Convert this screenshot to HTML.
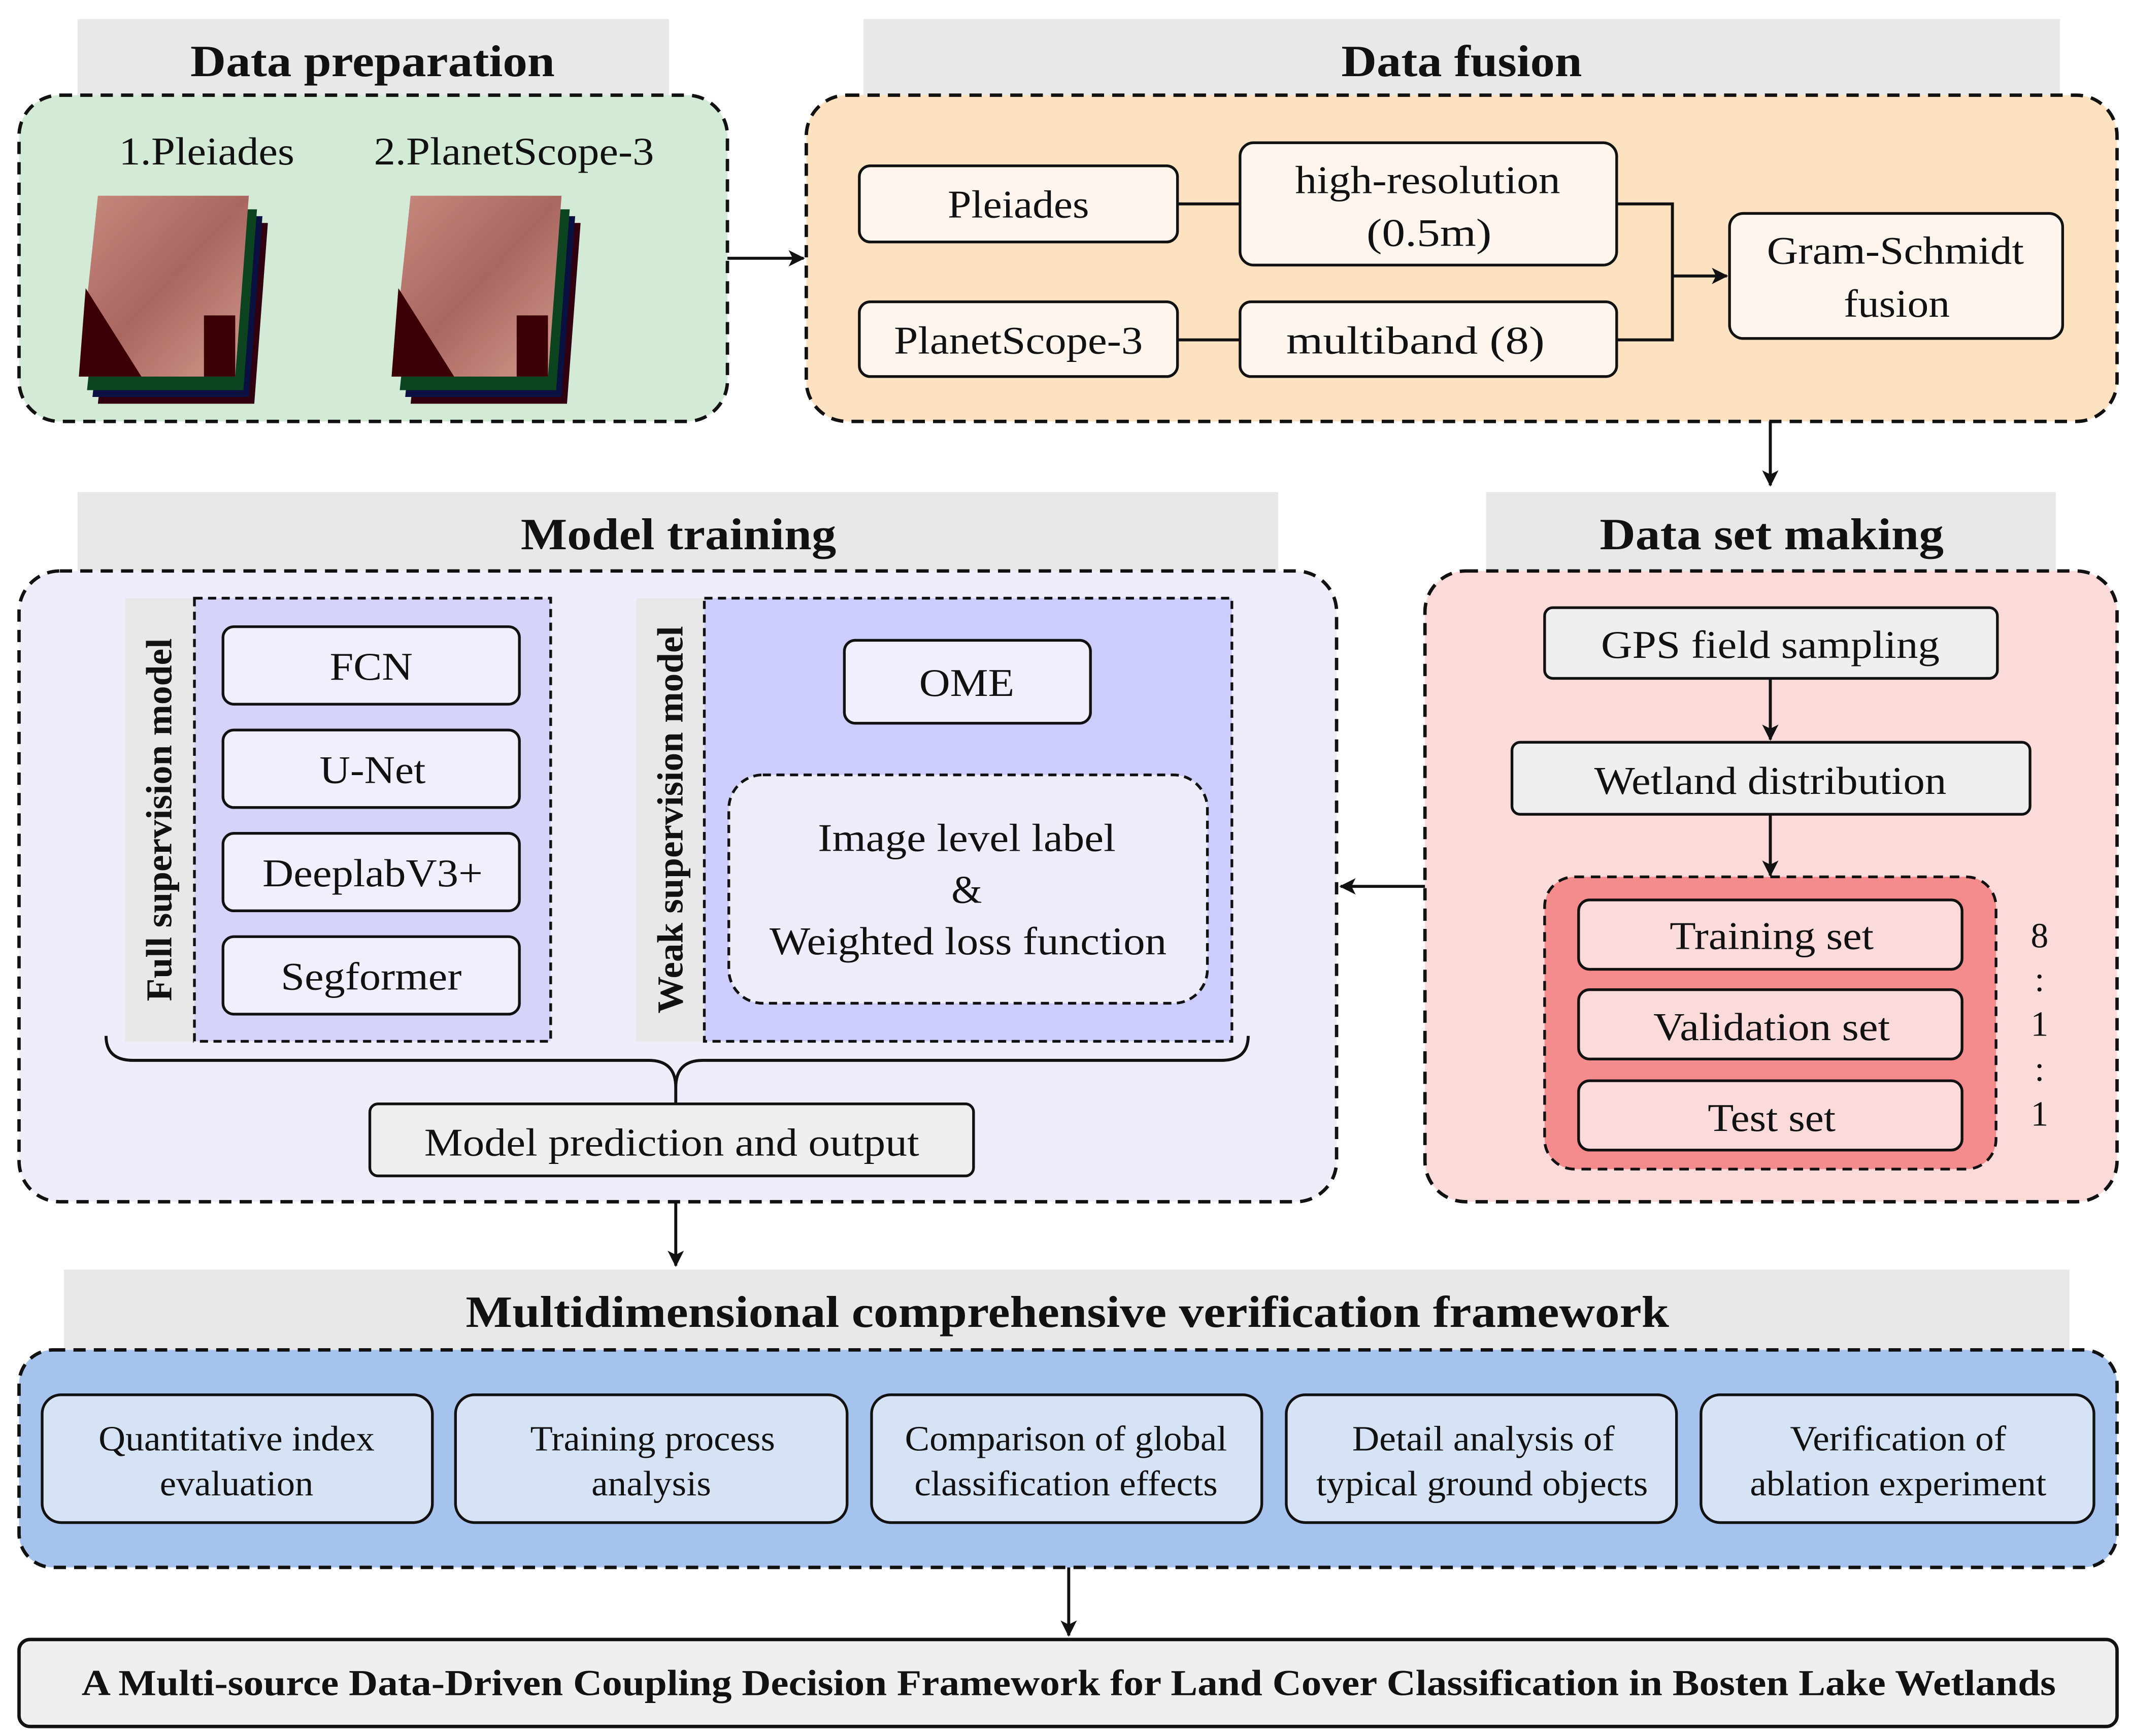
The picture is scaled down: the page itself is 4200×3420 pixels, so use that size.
<!DOCTYPE html>
<html><head><meta charset="utf-8"><style>html,body{margin:0;padding:0;background:#fff}svg{display:block}svg text{font-family:"Liberation Serif","Times New Roman",serif}</style></head>
<body>
<svg width="4200" height="3420" viewBox="0 0 1568 1277" preserveAspectRatio="none" xmlns="http://www.w3.org/2000/svg">
<defs>
<marker id="ah" markerWidth="12" markerHeight="12" refX="11" refY="6" orient="auto" markerUnits="userSpaceOnUse"><path d="M0,0 L12,6 L0,12 L3,6 z" fill="#111"/></marker>
<linearGradient id="img" x1="0" y1="0" x2="1" y2="1"><stop offset="0" stop-color="#c88a80"/><stop offset="0.5" stop-color="#a9675f"/><stop offset="1" stop-color="#d39a8e"/></linearGradient>
</defs>
<g stroke="#111" stroke-width="2.5">
<rect x="57" y="14" width="435" height="56" fill="#e8e8e8" stroke="none"/>
<rect x="635" y="14" width="880" height="56" fill="#e8e8e8" stroke="none"/>
<rect x="57" y="362" width="883" height="58" fill="#e8e8e8" stroke="none"/>
<rect x="1093" y="362" width="419" height="58" fill="#e8e8e8" stroke="none"/>
<rect x="47" y="934" width="1475" height="59" fill="#e8e8e8" stroke="none"/>
<rect x="14" y="70" width="521" height="240" rx="30" fill="#d3ead6" stroke-dasharray="9,6"/>
<rect x="593" y="70" width="964" height="240" rx="30" fill="#fde2c2" stroke-dasharray="9,6"/>
<rect x="14" y="420" width="969" height="464" rx="30" fill="#eeeefb" stroke-dasharray="9,6"/>
<rect x="1048" y="420" width="509" height="464" rx="30" fill="#fbdada" stroke-dasharray="9,6"/>
<rect x="14" y="993" width="1543" height="160" rx="25" fill="#a6c3ee" stroke-dasharray="9,6"/>
<rect x="14" y="1206" width="1543" height="64" rx="8" fill="#efefef"/>
</g>
<g>
<g id="im1">
<polygon points="86,164 197,164 187,297 72,297" fill="#300010"/>
<polygon points="82,159 193,159 183,292 68,292" fill="#0a1040"/>
<polygon points="78,154 189,154 179,287 64,287" fill="#0c4420"/>
<polygon points="72,144 183,144 173,277 58,277" fill="url(#img)"/>
<polygon points="63,212 104,277 58,277" fill="#3a0006"/>
<polygon points="150,232 173,232 173,277 150,277" fill="#3a0006"/>
</g>
<use href="#im1" x="230"/>
</g>
<g stroke="#111" stroke-width="2" fill="#fef6ee">
<rect x="632" y="122" width="234" height="56" rx="8"/>
<rect x="632" y="222" width="234" height="55" rx="8"/>
<rect x="912" y="105" width="277" height="90" rx="10"/>
<rect x="912" y="222" width="277" height="55" rx="8"/>
<rect x="1272" y="157" width="245" height="92" rx="10"/>
</g>
<g stroke="#111" stroke-width="2.2" fill="none">
<line x1="866" y1="150" x2="912" y2="150"/><line x1="866" y1="250" x2="912" y2="250"/>
<polyline points="1189,150 1230,150 1230,250 1189,250"/>
<line x1="1230" y1="203" x2="1270" y2="203" marker-end="url(#ah)"/>
<line x1="535" y1="190" x2="591" y2="190" marker-end="url(#ah)"/>
<line x1="1302" y1="310" x2="1302" y2="357" marker-end="url(#ah)"/>
<line x1="1302" y1="499" x2="1302" y2="544" marker-end="url(#ah)"/>
<line x1="1302" y1="599" x2="1302" y2="644" marker-end="url(#ah)"/>
<line x1="1048" y1="652" x2="986" y2="652" marker-end="url(#ah)"/>
<line x1="711" y1="532" x2="711" y2="569" marker-end="url(#ah)"/>
<line x1="497" y1="884" x2="497" y2="931" marker-end="url(#ah)"/>
<line x1="786" y1="1153" x2="786" y2="1203" marker-end="url(#ah)"/>
<path d="M78,762 Q78,780 98,780 L477,780 Q497,780 497,800 L497,812 M497,800 Q497,780 517,780 L898,780 Q918,780 918,762"/>
</g>
<g stroke="#111" stroke-width="2">
<rect x="1136" y="447" width="333" height="52" rx="6" fill="#efefef"/>
<rect x="1112" y="546" width="381" height="53" rx="6" fill="#efefef"/>
<rect x="1136" y="645" width="332" height="215" rx="22" fill="#f48c8e" stroke-dasharray="7,5"/>
<rect x="1161" y="662" width="282" height="51" rx="8" fill="#fadada"/>
<rect x="1161" y="728" width="282" height="51" rx="8" fill="#fadada"/>
<rect x="1161" y="795" width="282" height="51" rx="8" fill="#fadada"/>
</g>
<g stroke="#111" stroke-width="2">
<rect x="92" y="440" width="51" height="326" fill="#e8e8e8" stroke="none"/>
<rect x="143" y="440" width="262" height="326" fill="#d5d3f8" stroke-dasharray="6,4"/>
<rect x="468" y="440" width="50" height="326" fill="#e8e8e8" stroke="none"/>
<rect x="518" y="440" width="388" height="326" fill="#cdcdfb" stroke-dasharray="6,4"/>
<rect x="164" y="461" width="218" height="57" rx="8" fill="#f0f0fc"/>
<rect x="164" y="537" width="218" height="57" rx="8" fill="#f0f0fc"/>
<rect x="164" y="613" width="218" height="57" rx="8" fill="#f0f0fc"/>
<rect x="164" y="689" width="218" height="57" rx="8" fill="#f0f0fc"/>
<rect x="621" y="471" width="181" height="61" rx="8" fill="#f0f0fc"/>
<rect x="536" y="570" width="352" height="168" rx="25" fill="#eeeefb" stroke-dasharray="6,4"/>
<rect x="272" y="812" width="444" height="53" rx="6" fill="#efefef"/>
</g>
<g stroke="#111" stroke-width="2" fill="#d6e3f5">
<rect x="31" y="1026" width="287" height="94" rx="14"/>
<rect x="335" y="1026" width="288" height="94" rx="14"/>
<rect x="641" y="1026" width="287" height="94" rx="14"/>
<rect x="946" y="1026" width="287" height="94" rx="14"/>
<rect x="1251" y="1026" width="289" height="94" rx="14"/>
</g>
<g fill="#111" text-anchor="middle" font-weight="bold" font-size="33">
<text x="274" y="56" textLength="268" lengthAdjust="spacingAndGlyphs">Data preparation</text>
<text x="1075" y="56" textLength="177" lengthAdjust="spacingAndGlyphs">Data fusion</text>
<text x="499" y="404" textLength="232" lengthAdjust="spacingAndGlyphs">Model training</text>
<text x="1303" y="404" textLength="253" lengthAdjust="spacingAndGlyphs">Data set making</text>
<text x="785" y="976" textLength="885" lengthAdjust="spacingAndGlyphs">Multidimensional comprehensive verification framework</text>
<text x="786" y="1247" font-size="27" textLength="1452" lengthAdjust="spacingAndGlyphs">A Multi-source Data-Driven Coupling Decision Framework for Land Cover Classification in Bosten Lake Wetlands</text>
<text transform="translate(126,603) rotate(-90)" font-size="27" textLength="267" lengthAdjust="spacingAndGlyphs">Full supervision model</text>
<text transform="translate(502,603) rotate(-90)" font-size="27" textLength="285" lengthAdjust="spacingAndGlyphs">Weak supervision model</text>
</g>
<g fill="#111" text-anchor="middle" font-size="29">
<text x="152" y="121" textLength="129" lengthAdjust="spacingAndGlyphs">1.Pleiades</text>
<text x="378" y="121" textLength="206" lengthAdjust="spacingAndGlyphs">2.PlanetScope-3</text>
<text x="749" y="160" textLength="104" lengthAdjust="spacingAndGlyphs">Pleiades</text>
<text x="749" y="260" textLength="183" lengthAdjust="spacingAndGlyphs">PlanetScope-3</text>
<text x="1050" y="142" textLength="195" lengthAdjust="spacingAndGlyphs">high-resolution</text>
<text x="1051" y="181" textLength="92" lengthAdjust="spacingAndGlyphs">(0.5m)</text>
<text x="1041" y="260" textLength="190" lengthAdjust="spacingAndGlyphs">multiband (8)</text>
<text x="1394" y="194" textLength="189" lengthAdjust="spacingAndGlyphs">Gram-Schmidt</text>
<text x="1395" y="233" textLength="78" lengthAdjust="spacingAndGlyphs">fusion</text>
<text x="1302" y="484" textLength="249" lengthAdjust="spacingAndGlyphs">GPS field sampling</text>
<text x="1302" y="584" textLength="259" lengthAdjust="spacingAndGlyphs">Wetland distribution</text>
<text x="1303" y="698" textLength="150" lengthAdjust="spacingAndGlyphs">Training set</text>
<text x="1303" y="765" textLength="174" lengthAdjust="spacingAndGlyphs">Validation set</text>
<text x="1303" y="832" textLength="94" lengthAdjust="spacingAndGlyphs">Test set</text>
<text x="1500" y="697" font-size="26">8</text>
<text x="1500" y="729" font-size="26">:</text>
<text x="1500" y="762" font-size="26">1</text>
<text x="1500" y="795" font-size="26">:</text>
<text x="1500" y="828" font-size="26">1</text>
<text x="273" y="500" textLength="61" lengthAdjust="spacingAndGlyphs">FCN</text>
<text x="274" y="576" textLength="78" lengthAdjust="spacingAndGlyphs">U-Net</text>
<text x="274" y="652" textLength="162" lengthAdjust="spacingAndGlyphs">DeeplabV3+</text>
<text x="273" y="728" textLength="133" lengthAdjust="spacingAndGlyphs">Segformer</text>
<text x="711" y="512" textLength="70" lengthAdjust="spacingAndGlyphs">OME</text>
<text x="711" y="626" textLength="219" lengthAdjust="spacingAndGlyphs">Image level label</text>
<text x="711" y="664">&amp;</text>
<text x="712" y="702" textLength="292" lengthAdjust="spacingAndGlyphs">Weighted loss function</text>
<text x="494" y="850" textLength="364" lengthAdjust="spacingAndGlyphs">Model prediction and output</text>
</g>
<g fill="#111" text-anchor="middle" font-size="26">
<text x="174" y="1067" textLength="203" lengthAdjust="spacingAndGlyphs">Quantitative index</text><text x="174" y="1100" textLength="113" lengthAdjust="spacingAndGlyphs">evaluation</text>
<text x="480" y="1067" textLength="180" lengthAdjust="spacingAndGlyphs">Training process</text><text x="479" y="1100" textLength="88" lengthAdjust="spacingAndGlyphs">analysis</text>
<text x="784" y="1067" textLength="237" lengthAdjust="spacingAndGlyphs">Comparison of global</text><text x="784" y="1100" textLength="223" lengthAdjust="spacingAndGlyphs">classification effects</text>
<text x="1091" y="1067" textLength="193" lengthAdjust="spacingAndGlyphs">Detail analysis of</text><text x="1090" y="1100" textLength="244" lengthAdjust="spacingAndGlyphs">typical ground objects</text>
<text x="1396" y="1067" textLength="159" lengthAdjust="spacingAndGlyphs">Verification of</text><text x="1396" y="1100" textLength="218" lengthAdjust="spacingAndGlyphs">ablation experiment</text>
</g>
</svg>
</body></html>
